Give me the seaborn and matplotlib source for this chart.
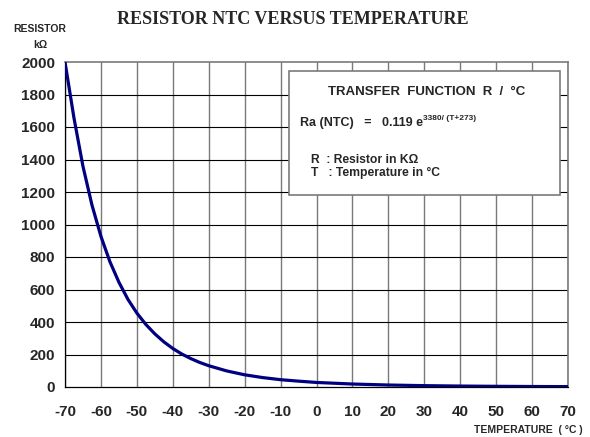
import matplotlib
matplotlib.use("Agg")
import matplotlib.pyplot as plt
from matplotlib.text import Annotation
import seaborn as sns
import pandas as pd

temperature_c = [-70, -67.5, -65, -62.5, -60, -57.5, -55, -52.5, -50, -47.5, -45,
                 -42.5, -40, -37.5, -35, -32.5, -30, -25, -20, -15,
                 -10, -5, 0, 10, 20, 30, 40, 50, 60, 70]
resistance_kohm = [2000, 1655, 1358, 1120, 927, 771, 645, 540, 455, 385, 327,
                   278, 237, 203, 175, 151, 131, 99, 75, 58,
                   45, 36, 28, 18.3, 12.2, 8.3, 5.8, 4.2, 3.0, 2.3]
x_ticks = list(range(-70, 71, 10))
y_ticks = list(range(0, 2001, 200))

sns.set_style("white")
plt.rcParams['font.family'] = ['Liberation Sans', 'DejaVu Sans']

df = pd.DataFrame({"T": temperature_c, "R": resistance_kohm})

fig = plt.figure(figsize=(5.9, 4.37), dpi=100)
ax = fig.add_axes([65/590, 1-387/437, (568-65)/590, (387-62)/437])

for x in x_ticks:
    ax.axvline(x, color="#7a7a7a", lw=1.0, zorder=1)
for y in y_ticks[1:-1]:
    ax.axhline(y, color="#000000", lw=0.8, zorder=1)

sns.lineplot(data=df, x="T", y="R", ax=ax, color="#000080", lw=2.3, zorder=3)

ax.set_xlim(-70, 70)
ax.set_ylim(0, 2000)
ax.set_xticks(x_ticks)
ax.set_yticks(y_ticks)
ax.set_xticklabels([str(v) for v in x_ticks], fontsize=11, fontweight="bold")
ax.set_yticklabels([str(v) for v in y_ticks], fontsize=11, fontweight="bold")
ax.tick_params(axis="x", direction="out", length=4, width=0.8, color="black", pad=9)
ax.tick_params(axis="y", direction="out", length=4, width=0.8, color="black", pad=3)
ax.set_xlabel("")
ax.set_ylabel("")
for s in ["left", "bottom"]:
    ax.spines[s].set_color("black")
    ax.spines[s].set_linewidth(0.9)
for s in ["top", "right"]:
    ax.spines[s].set_color("#7a7a7a")
    ax.spines[s].set_linewidth(1.2)

fig.text(293/590, 1-19/437, "RESISTOR NTC VERSUS TEMPERATURE", ha="center", va="center",
         family=["Liberation Serif", "DejaVu Serif"], fontweight="bold", fontsize=13)
fig.text(40/590, 1-29/437, "RESISTOR", ha="center", va="center", fontsize=7.5, fontweight="bold")
fig.text(40/590, 1-45/437, "kΩ", ha="center", va="center", fontsize=7.5, fontweight="bold")
fig.text(583/590, 1-430/437, "TEMPERATURE  ( °C )", ha="right", va="center", fontsize=7.5, fontweight="bold")

# text box
box = plt.Rectangle((289/590, 1-195/437), (560-289)/590, (195-71)/437, transform=fig.transFigure,
                    facecolor="white", edgecolor="#7a7a7a", lw=1.2, zorder=5)
fig.patches.append(box)
fig.text(427/590, 1-92/437, "TRANSFER  FUNCTION  R  /  °C", ha="center", va="center",
         fontsize=9.5, fontweight="bold", zorder=6)
t = fig.text(300/590, 1-126/437, "Ra (NTC)   =   0.119 e", ha="left", va="baseline",
             fontsize=9, fontweight="bold", zorder=6)
sup = Annotation("3380/ (T+273)", xy=(1.0, 0.62), xycoords=t, ha="left", va="bottom",
                 fontsize=6, fontweight="bold", zorder=7, annotation_clip=False)
fig.add_artist(sup)
fig.text(311/590, 1-160/437, "R  : Resistor in KΩ", ha="left", va="center",
         fontsize=8.7, fontweight="bold", zorder=6)
fig.text(311/590, 1-173/437, "T   : Temperature in °C", ha="left", va="center",
         fontsize=8.7, fontweight="bold", zorder=6)

fig.savefig("out.png", dpi=100)
